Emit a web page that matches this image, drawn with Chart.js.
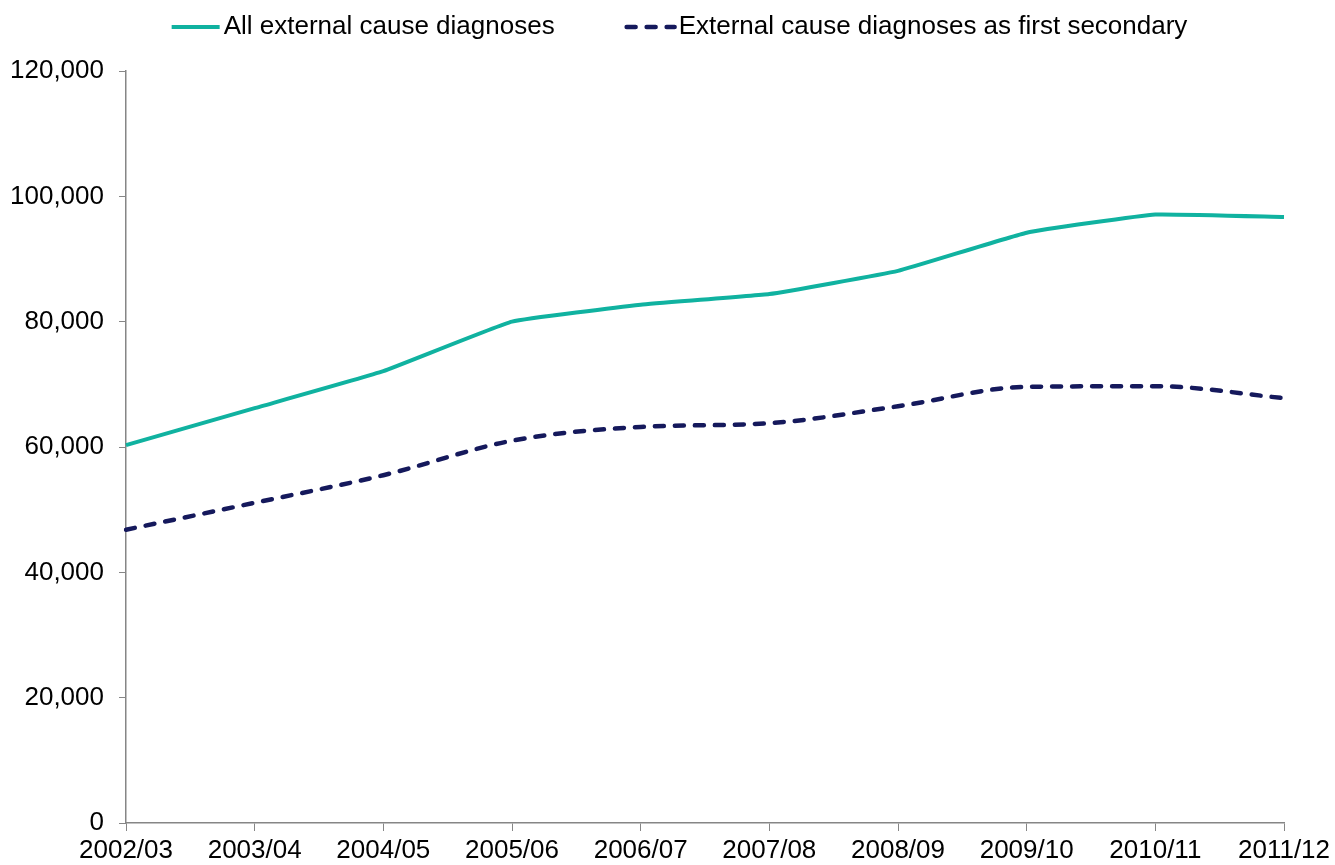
<!DOCTYPE html>
<html>
<head>
<meta charset="utf-8">
<script src="https://cdn.jsdelivr.net/npm/chart.js@4/dist/chart.umd.min.js"></script>
<style>
  body { margin: 0; background: #fff; }
  #box { width: 1335px; height: 865px; }
</style>
</head>
<body>
<div id="box"><canvas id="graficoCausas"></canvas></div>
<script>
const years = ["2002/03", "2003/04", "2004/05", "2005/06", "2006/07", "2007/08", "2008/09", "2009/10", "2010/11", "2011/12"];
const allExternal = [60300, 66200, 72100, 80000, 82700, 84400, 88100, 94200, 97100, 96700];
const firstSecondary = [46800, 51100, 55500, 61000, 63200, 63800, 66500, 69600, 69700, 67800];
const yTicks = [0, 20000, 40000, 60000, 80000, 100000, 120000];

const fontFamily = '"Liberation Sans", Arial, sans-serif';
Chart.defaults.font.family = fontFamily;
Chart.defaults.font.size = 26;
Chart.defaults.color = "#000";

// legend drawn by hand so the spacing matches the picture
const legendaManual = {
  id: "legendaManual",
  afterDraw(chart) {
    const ctx = chart.ctx;
    const sample = 48, gap = 4, between = 72, y = 27, shiftX = 12;
    ctx.save();
    ctx.font = "26px " + fontFamily;
    const widths = chart.data.datasets.map(d => ctx.measureText(d.label).width);
    let total = 0;
    widths.forEach((w, i) => { total += sample + gap + w + (i > 0 ? between : 0); });
    let x = (chart.width - total) / 2 + shiftX;
    chart.data.datasets.forEach((d, i) => {
      ctx.strokeStyle = d.borderColor;
      ctx.lineWidth = d.borderWidth;
      ctx.lineCap = d.borderCapStyle || "butt";
      ctx.setLineDash(d.borderDash || []);
      ctx.beginPath();
      ctx.moveTo(x, y);
      ctx.lineTo(x + sample, y);
      ctx.stroke();
      ctx.setLineDash([]);
      ctx.fillStyle = "#000";
      ctx.textBaseline = "middle";
      ctx.textAlign = "left";
      ctx.fillText(d.label, x + sample + gap, y);
      x += sample + gap + widths[i] + between;
    });
    ctx.restore();
  }
};

const grafico = new Chart(document.getElementById("graficoCausas"), {
  type: "line",
  data: {
    labels: years,
    datasets: [
      {
        label: "All external cause diagnoses",
        data: allExternal,
        borderColor: "#10b2a0",
        borderWidth: 4,
        tension: 0.1,
        pointRadius: 0,
      },
      {
        label: "External cause diagnoses as first secondary",
        data: firstSecondary,
        borderColor: "#15195c",
        borderWidth: 4.5,
        borderDash: [9, 11],
        borderCapStyle: "round",
        cubicInterpolationMode: "monotone",
        pointRadius: 0,
      },
    ],
  },
  options: {
    responsive: true,
    maintainAspectRatio: false,
    animation: false,
    layout: { padding: { top: 71, right: 51, bottom: 0, left: 0 } },
    plugins: { legend: { display: false }, tooltip: { enabled: false } },
    scales: {
      x: {
        offset: false,
        grid: { drawOnChartArea: false, drawTicks: true, tickLength: 8, color: "#868686" },
        border: { color: "#868686", width: 1.5 },
        ticks: { padding: 4, maxRotation: 0, autoSkip: false },
        afterFit: (scale) => { scale.height = 42; },
      },
      y: {
        min: 0,
        max: 120000,
        afterBuildTicks: (scale) => { scale.ticks = yTicks.map(v => ({ value: v })); },
        grid: { drawOnChartArea: false, drawTicks: true, tickLength: 7, color: "#868686" },
        border: { color: "#868686", width: 1.5 },
        ticks: { padding: 15, callback: (v) => v.toLocaleString("en-GB") },
        afterFit: (scale) => { scale.width = 126; },
      },
    },
  },
  plugins: [legendaManual],
});
</script>
</body>
</html>
